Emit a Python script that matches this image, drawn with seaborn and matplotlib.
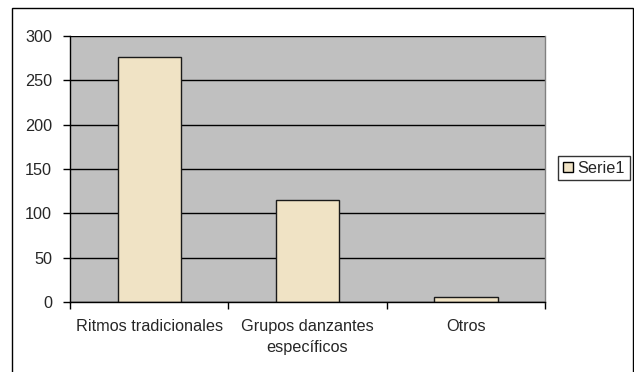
import matplotlib
matplotlib.use("Agg")
import matplotlib.pyplot as plt
import seaborn as sns
import pandas as pd
from matplotlib.patches import Rectangle, Patch

categories = ["Ritmos tradicionales", "Grupos danzantes\nespecíficos", "Otros"]
values = [276, 115, 6]
series_name = "Serie1"
yticks = [0, 50, 100, 150, 200, 250, 300]

sns.set_theme(style="white")
plt.rcParams['font.family'] = ['Liberation Sans', 'DejaVu Sans']

df = pd.DataFrame({"cat": categories, "val": values})

fig = plt.figure(figsize=(6.34, 3.72), dpi=100)
ax = fig.add_axes([70/634, 1-302/372, (545-70)/634, (302-36)/372])

# outer frame
fig.patches.append(Rectangle((12/634, -0.1), (633-12)/634, 1.1 - 8/372, transform=fig.transFigure,
                             fill=False, edgecolor='black', linewidth=1.0))

ax.set_facecolor('#C0C0C0')
sns.barplot(data=df, x="cat", y="val", ax=ax, color='#F0E3C5', width=0.4,
            edgecolor='#1a1a1a', linewidth=1.0, saturation=1)
ax.set_ylim(0, 300)
ax.set_xlim(-0.5, 2.5)
ax.set_yticks(yticks)
ax.set_yticklabels([str(t) for t in yticks], fontsize=11.7)
ax.yaxis.grid(True, color='black', linewidth=1.0)
ax.set_axisbelow(True)
ax.set_xticks([-0.5, 0.5, 1.5, 2.5], minor=False)
ax.set_xticklabels([])
ax.set_xticks([0, 1, 2], minor=True)
ax.set_xticklabels(categories, minor=True, fontsize=11.7, linespacing=1.55)
ax.tick_params(axis='x', which='minor', length=0, pad=12)
ax.tick_params(axis='x', which='major', length=5, width=1, color='black', direction='out', bottom=True)
ax.tick_params(axis='y', length=5, width=1, color='black', direction='out', left=True, pad=8)
ax.set_xlabel("")
ax.set_ylabel("")
ax.spines['top'].set_visible(False)
ax.spines['right'].set_visible(True)
ax.spines['right'].set_color('#808080')
ax.spines['right'].set_linewidth(1.0)
ax.spines['left'].set_color('black')
ax.spines['bottom'].set_color('black')
ax.spines['left'].set_linewidth(1.0)
ax.spines['bottom'].set_linewidth(1.0)

handle = Patch(facecolor='#F0E3C5', edgecolor='black', linewidth=1.0, label=series_name)
leg = fig.legend(handles=[handle], loc='center left', bbox_to_anchor=(558/634, 1-168/372),
                 fontsize=11.7, frameon=True, fancybox=False, edgecolor='black',
                 handlelength=0.6, handleheight=0.6, handletextpad=0.3, borderpad=0.3,
                 borderaxespad=0)
leg.get_frame().set_linewidth(1.0)

fig.savefig("out.png", dpi=100)
